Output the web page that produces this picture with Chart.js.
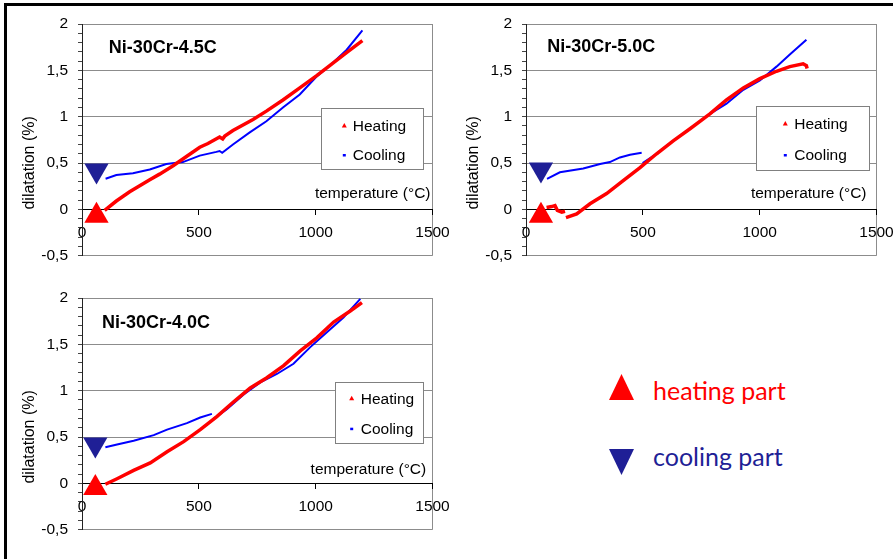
<!DOCTYPE html>
<html>
<head>
<meta charset="utf-8">
<script src="https://cdn.jsdelivr.net/npm/chart.js@4.4.0/dist/chart.umd.min.js"></script>
<style>
  html, body { margin: 0; padding: 0; background: #fff; }
  #page { position: relative; width: 893px; height: 559px; overflow: hidden; background: #fff; }
  #page canvas { position: absolute; }
  .frame-top { position: absolute; left: 4px; top: 3px; width: 889px; height: 3px; background: #000; }
  .frame-left { position: absolute; left: 4px; top: 3px; width: 3px; height: 556px; background: #000; }
  .key { position: absolute; left: 609px; width: 25px; height: 26px; }
  .key.up { top: 374px; background: #ff0000; clip-path: polygon(50% 0, 100% 100%, 0 100%); }
  .key.down { top: 449px; background: #1f1f96; clip-path: polygon(0 0, 100% 0, 50% 100%); }
  .keytext { position: absolute; left: 653px; font-family: Lato, 'Noto Sans', sans-serif; font-size: 25px; line-height: 25px; white-space: nowrap; }
</style>
</head>
<body>
<div id="page">
  <canvas id="c45" width="470" height="275" style="left:0px;top:0px;width:470px;height:275px"></canvas>
  <canvas id="c50" width="470" height="275" style="left:444px;top:0px;width:470px;height:275px"></canvas>
  <canvas id="c40" width="470" height="275" style="left:0px;top:274px;width:470px;height:275px"></canvas>
  <div class="frame-top"></div>
  <div class="frame-left"></div>
  <div class="key up"></div>
  <div class="key down"></div>
  <div class="keytext" style="top:378px;color:#ff0000">heating part</div>
  <div class="keytext" style="top:444px;color:#1f1f96">cooling part</div>
</div>
<script>
// panel names
const alloys = ['Ni-30Cr-4.5C', 'Ni-30Cr-5.0C', 'Ni-30Cr-4.0C'];
const seriesNames = ['Heating', 'Cooling'];

// Ni-30Cr-4.5C
const temp45Heat = [97, 147, 204, 290, 332, 390, 447, 504, 539, 589, 602, 611, 646, 732, 789, 860, 932, 1003, 1060, 1132, 1200];
const dil45Heat  = [-0.01, 0.09, 0.19, 0.32, 0.38, 0.47, 0.57, 0.67, 0.71, 0.78, 0.76, 0.79, 0.85, 0.97, 1.06, 1.18, 1.31, 1.44, 1.55, 1.69, 1.82];
const temp45Cool = [101, 147, 218, 290, 361, 432, 504, 575, 589, 600, 646, 718, 789, 860, 932, 1003, 1060, 1132, 1200];
const dil45Cool  = [0.33, 0.37, 0.39, 0.43, 0.49, 0.51, 0.58, 0.62, 0.63, 0.61, 0.70, 0.83, 0.95, 1.10, 1.24, 1.43, 1.55, 1.72, 1.93];

// Ni-30Cr-5.0C
const temp50Heat = [88, 110, 124, 134, 153, 167, 168, 171, 217, 274, 345, 416, 488, 559, 630, 702, 787, 858, 930, 1001, 1072, 1129, 1186, 1200, 1203];
const dil50Heat  = [0.02, 0.03, 0.04, -0.01, -0.03, -0.02, null, -0.09, -0.05, 0.06, 0.17, 0.31, 0.45, 0.60, 0.74, 0.87, 1.03, 1.18, 1.31, 1.41, 1.49, 1.54, 1.57, 1.55, 1.52];
const temp50Cool = [90, 145, 245, 317, 359, 402, 445, 495, 497, 499, 559, 630, 702, 787, 858, 930, 1001, 1072, 1129, 1200];
const dil50Cool  = [0.33, 0.40, 0.44, 0.49, 0.51, 0.56, 0.59, 0.61, null, 0.50, 0.60, 0.74, 0.87, 1.03, 1.14, 1.29, 1.39, 1.54, 1.67, 1.83];

// Ni-30Cr-4.0C
const temp40Heat = [100, 150, 221, 292, 364, 435, 506, 577, 649, 720, 791, 863, 934, 1005, 1077, 1148, 1198];
const dil40Heat  = [-0.01, 0.05, 0.14, 0.22, 0.34, 0.45, 0.58, 0.72, 0.88, 1.03, 1.14, 1.27, 1.43, 1.57, 1.74, 1.86, 1.95];
const temp40Cool = [100, 150, 221, 307, 364, 449, 506, 556, 557, 559, 620, 692, 763, 834, 905, 977, 1048, 1119, 1191];
const dil40Cool  = [0.39, 0.42, 0.46, 0.52, 0.58, 0.65, 0.71, 0.75, null, 0.69, 0.80, 0.96, 1.09, 1.18, 1.29, 1.47, 1.63, 1.79, 1.99];

// big start markers (one per panel)
const markTemp    = [62, 64, 57];
const markHeatDil = [-0.07, -0.07, -0.05];
const markCoolDil = [0.42, 0.43, 0.42];

// axis ticks
const xTicks = [0, 500, 1000, 1500];
const yTicks = [-0.5, 0, 0.5, 1, 1.5, 2];

const RED = '#ff0000', BLUE = '#0000ff', NAVY = '#1f1f96', GRID = '#8c8c8c';
const FONT = "'Liberation Sans', Arial, sans-serif";

function pts(t, d) {
    return t.map((v, i) => ({ x: v, y: d[i] }));
}

function isMajor(v) {
    return Math.round(v * 10) % 5 === 0;
}

// titles, axis captions and the small in-plot legend
const panelText = {
    id: 'panelText',
    afterDatasetsDraw(chart, args, o) {
        const ctx = chart.ctx;
        const a = chart.chartArea;
        const y0 = chart.scales.y.getPixelForValue(0);
        ctx.save();

        ctx.fillStyle = '#000';
        ctx.font = 'bold 18px ' + FONT;
        ctx.textAlign = 'left';
        ctx.textBaseline = 'middle';
        ctx.fillText(o.title, a.left + o.titlePos[0], a.top + o.titlePos[1]);

        ctx.font = '15.5px ' + FONT;
        ctx.textAlign = 'right';
        ctx.fillText('temperature (°C)', a.right + o.xTitlePos[0], y0 - o.xTitlePos[1]);

        ctx.save();
        ctx.translate(a.left - 52, (a.top + a.bottom) / 2 + 23);
        ctx.rotate(-Math.PI / 2);
        ctx.textAlign = 'center';
        ctx.font = '16px ' + FONT;
        ctx.fillText('dilatation (%)', 0, 0);
        ctx.restore();

        // legend box
        const b = o.box;
        const bx = Math.round(a.left + b.x), by = Math.round(a.top + b.y);
        ctx.fillStyle = '#fff';
        ctx.fillRect(bx, by, b.w, b.h);
        ctx.strokeStyle = '#808080';
        ctx.lineWidth = 1;
        ctx.strokeRect(bx + 0.5, by + 0.5, b.w, b.h);

        ctx.font = '15.5px ' + FONT;
        ctx.textAlign = 'left';
        ctx.fillStyle = '#000';
        seriesNames.forEach((name, i) => {
            const ry = by + b.rows[i];
            const mx = bx + b.mark;
            if (i === 0) {
                ctx.fillStyle = RED;
                ctx.beginPath();
                ctx.moveTo(mx, ry - 3);
                ctx.lineTo(mx + 2.5, ry + 1.5);
                ctx.lineTo(mx - 2.5, ry + 1.5);
                ctx.closePath();
                ctx.fill();
            } else {
                ctx.fillStyle = BLUE;
                ctx.fillRect(mx - 1.5, ry - 1, 3, 2.5);
            }
            ctx.fillStyle = '#000';
            ctx.fillText(name, bx + b.text, ry + 1);
        });
        ctx.restore();
    }
};

function makePanel(id, k, heat, cool, text) {
    new Chart(document.getElementById(id), {
        type: 'scatter',
        data: {
            datasets: [
                {
                    label: seriesNames[0],
                    data: heat,
                    showLine: true,
                    borderColor: RED,
                    borderWidth: 3.5,
                    pointRadius: 0,
                    spanGaps: false
                },
                {
                    label: seriesNames[1],
                    data: cool,
                    showLine: true,
                    borderColor: BLUE,
                    borderWidth: 2,
                    pointRadius: 0,
                    spanGaps: false
                },
                {
                    label: 'heating part',
                    data: [{ x: markTemp[k], y: markHeatDil[k] }],
                    pointStyle: 'triangle',
                    pointRadius: 14,
                    pointBackgroundColor: RED,
                    pointBorderWidth: 0
                },
                {
                    label: 'cooling part',
                    data: [{ x: markTemp[k], y: markCoolDil[k] }],
                    pointStyle: 'triangle',
                    pointRotation: 180,
                    pointRadius: 14,
                    pointBackgroundColor: NAVY,
                    pointBorderWidth: 0
                }
            ]
        },
        options: {
            responsive: false,
            animation: false,
            devicePixelRatio: 1,
            layout: { padding: { top: 24, right: 37.5, bottom: 10, left: 0 } },
            plugins: {
                legend: { display: false },
                tooltip: { enabled: false },
                panelText: text
            },
            scales: {
                x: {
                    type: 'linear',
                    position: { y: 0 },
                    min: xTicks[0],
                    max: xTicks[xTicks.length - 1],
                    afterFit: (s) => { s.height = 0; },
                    ticks: {
                        stepSize: 500,
                        color: '#000',
                        font: { family: FONT, size: 15.5 },
                        padding: 9,
                        maxRotation: 0,
                        callback: (v) => xTicks.includes(v) ? String(v) : ''
                    },
                    grid: {
                        color: (c) => c.tick && c.tick.value === 1500 ? GRID : 'rgba(0,0,0,0)',
                        tickColor: '#000',
                        tickLength: 5
                    },
                    border: { color: '#000', width: 1 }
                },
                y: {
                    type: 'linear',
                    min: yTicks[0],
                    max: yTicks[yTicks.length - 1],
                    afterFit: (s) => { s.width = 82; },
                    ticks: {
                        stepSize: 0.1,
                        maxTicksLimit: 40,
                        autoSkip: false,
                        color: '#000',
                        font: { family: FONT, size: 15.5 },
                        padding: 10,
                        callback: (v) => isMajor(v) ? String(Math.round(v * 10) / 10).replace('.', ',') : ''
                    },
                    grid: {
                        color: (c) => {
                            if (!c.tick) return 'rgba(0,0,0,0)';
                            const v = Math.round(c.tick.value * 10);
                            return (v % 5 === 0 && v !== 0) ? GRID : 'rgba(0,0,0,0)';
                        },
                        tickColor: '#444',
                        tickLength: 4
                    },
                    border: { color: '#222', width: 1 }
                }
            }
        },
        plugins: [panelText]
    });
}

makePanel('c45', 0, pts(temp45Heat, dil45Heat), pts(temp45Cool, dil45Cool), {
    title: alloys[0], titlePos: [26.7, 24], xTitlePos: [-2, 15.3],
    box: { x: 239.4, y: 84, w: 102, h: 61, mark: 23.3, text: 31.7, rows: [18, 47] }
});
makePanel('c50', 1, pts(temp50Heat, dil50Heat), pts(temp50Cool, dil50Cool), {
    title: alloys[1], titlePos: [21.3, 22.7], xTitlePos: [-10, 16],
    box: { x: 229.7, y: 82, w: 113, h: 64, mark: 29.3, text: 38.3, rows: [18, 49] }
});
makePanel('c40', 2, pts(temp40Heat, dil40Heat), pts(temp40Cool, dil40Cool), {
    title: alloys[2], titlePos: [20, 25], xTitlePos: [-6.3, 13.4],
    box: { x: 253.3, y: 84.4, w: 88, h: 61, mark: 16.7, text: 25.7, rows: [16.7, 46.7] }
});
</script>
</body>
</html>
